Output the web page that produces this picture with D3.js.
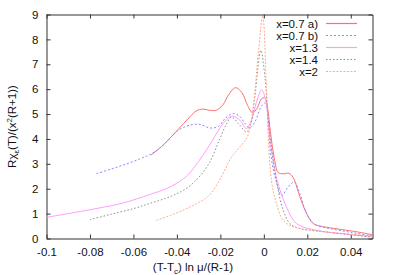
<!DOCTYPE html>
<html>
<head>
<meta charset="utf-8">
<script src="https://cdn.jsdelivr.net/npm/d3@7"></script>
<style>
  body { margin: 0; background: #fff; }
  svg { font-family: "Liberation Sans", Arial, sans-serif; }
</style>
</head>
<body>
<div id="app"></div>
<script>
const xTicks = [-0.1, -0.08, -0.06, -0.04, -0.02, 0, 0.02, 0.04];
const yTicks = [0, 1, 2, 3, 4, 5, 6, 7, 8, 9];
const seriesNames = ["x=0.7 a)", "x=0.7 b)", "x=1.3", "x=1.4", "x=2"];

const x07a = [[-0.052,3.35],[-0.047,3.7],[-0.043,4.05],[-0.039,4.42],[-0.035,4.8],[-0.031,5.13],[-0.028,5.2],[-0.025,5.15],[-0.022,5.15],[-0.019,5.35],[-0.016,5.8],[-0.013,6.06],[-0.010,5.85],[-0.0075,5.35],[-0.0052,5.05],[-0.003,5.25],[-0.0012,5.6],[0.0005,5.65],[0.0018,5.2],[0.003,4.3],[0.005,3.14],[0.0066,2.65],[0.009,2.6],[0.0115,2.62],[0.0135,2.45],[0.0165,1.7],[0.0197,1.0],[0.0227,0.6],[0.026,0.5],[0.0304,0.43],[0.0427,0.27],[0.05,0.15]];
const x07b = [[-0.077,2.6],[-0.07,2.8],[-0.063,3.0],[-0.057,3.2],[-0.0525,3.37],[-0.048,3.62],[-0.044,3.95],[-0.0402,4.3],[-0.036,4.5],[-0.0325,4.58],[-0.029,4.58],[-0.0249,4.44],[-0.021,4.5],[-0.0175,4.85],[-0.0141,5.02],[-0.011,4.9],[-0.0085,4.6],[-0.0064,4.45],[-0.004,4.7],[-0.0015,5.25],[0.0005,5.45],[0.002,4.9],[0.0028,3.7],[0.0045,2.7],[0.0061,2.2],[0.0081,1.72],[0.0112,2.07],[0.014,2.27],[0.0166,1.8],[0.0197,1.0],[0.0235,0.57],[0.0303,0.4],[0.04,0.25],[0.05,0.1]];
const x13 = [[-0.1,0.85],[-0.09,1.0],[-0.0755,1.23],[-0.065,1.42],[-0.0524,1.77],[-0.045,2.0],[-0.04,2.22],[-0.035,2.55],[-0.03,3.1],[-0.025,3.75],[-0.0205,4.4],[-0.0172,4.77],[-0.0144,4.92],[-0.011,4.75],[-0.008,4.42],[-0.0055,4.8],[-0.003,5.6],[-0.001,5.97],[0.001,5.5],[0.0025,4.2],[0.0043,3.14],[0.0061,2.34],[0.0104,1.27],[0.015,0.6],[0.0242,0.33],[0.035,0.2],[0.05,0.08]];
const x14 = [[-0.08,0.76],[-0.07,0.98],[-0.06,1.2],[-0.0525,1.41],[-0.045,1.62],[-0.04,1.8],[-0.035,2.05],[-0.03,2.45],[-0.025,3.05],[-0.0205,3.95],[-0.0172,4.6],[-0.0149,4.88],[-0.0115,4.6],[-0.008,4.28],[-0.006,4.6],[-0.004,5.8],[-0.0014,7.56],[0.0005,6.5],[0.002,4.8],[0.0035,3.68],[0.005,2.74],[0.0066,1.94],[0.0089,1.14],[0.012,0.6],[0.0166,0.4],[0.025,0.3],[0.035,0.2],[0.05,0.05]];
const x20 = [[-0.0494,0.73],[-0.043,0.93],[-0.0371,1.14],[-0.031,1.4],[-0.027,1.6],[-0.024,1.85],[-0.021,2.25],[-0.018,2.75],[-0.015,3.25],[-0.0118,3.6],[-0.0096,3.83],[-0.0075,4.1],[-0.005,5.2],[-0.0025,7.5],[-0.0005,8.95],[0.001,6.5],[0.002,4.2],[0.0035,2.34],[0.0058,1.4],[0.0089,0.73],[0.0135,0.47],[0.02,0.35],[0.03,0.25],[0.05,0.1]];

const chart = () => {
  const width = 393;
  const height = 275;
  const marginTop = 14.5;
  const marginRight = 20.5;
  const marginBottom = 36.5;
  const marginLeft = 46.5;

  const x = d3.scaleLinear().domain([-0.1, 0.05]).range([marginLeft, width - marginRight]);
  const y = d3.scaleLinear().domain([0, 9]).range([height - marginBottom, marginTop]);

  const svg = d3.create("svg").attr("width", width).attr("height", height);

  const styles = [
    { color: "#ff6f6f", dash: "none" },
    { color: "#8a8aff", dash: "2,2" },
    { color: "#ff9cff", dash: "none" },
    { color: "#8c8c8c", dash: "1.5,2" },
    { color: "#ffab8c", dash: "2,1.5" }
  ];
  const allSeries = [x07a, x07b, x13, x14, x20];

  const line = d3.line()
    .x((d) => x(d[0]))
    .y((d) => y(d[1]))
    .curve(d3.curveCatmullRom.alpha(0.5));

  svg.append("defs").append("clipPath").attr("id", "clip")
    .append("rect")
    .attr("x", marginLeft).attr("y", marginTop)
    .attr("width", width - marginLeft - marginRight)
    .attr("height", height - marginTop - marginBottom);

  // frame with mirrored inward ticks
  const axB = svg.append("g")
    .attr("transform", `translate(0,${height - marginBottom})`)
    .call(d3.axisBottom(x).tickValues(xTicks).tickSizeInner(-4).tickSizeOuter(0).tickPadding(9).tickFormat((d) => String(d)));
  const axT = svg.append("g")
    .attr("transform", `translate(0,${marginTop})`)
    .call(d3.axisTop(x).tickValues(xTicks).tickSizeInner(-4).tickSizeOuter(0).tickFormat(""));
  const axL = svg.append("g")
    .attr("transform", `translate(${marginLeft},0)`)
    .call(d3.axisLeft(y).tickValues(yTicks).tickSizeInner(-4).tickSizeOuter(0).tickPadding(8));
  const axR = svg.append("g")
    .attr("transform", `translate(${width - marginRight},0)`)
    .call(d3.axisRight(y).tickValues(yTicks).tickSizeInner(-4).tickSizeOuter(0).tickFormat(""));

  [axB, axT, axL, axR].forEach((g) => {
    g.select(".domain").attr("stroke", "#333");
    g.selectAll(".tick line").attr("stroke", "#333");
    g.selectAll("text").attr("font-size", 11.5).attr("fill", "#111").attr("font-family", "Liberation Sans, Arial, sans-serif");
  });

  const plot = svg.append("g").attr("clip-path", "url(#clip)");
  allSeries.forEach((s, i) => {
    plot.append("path")
      .datum(s)
      .attr("fill", "none")
      .style("stroke", styles[i].color)
      .style("stroke-width", 1)
      .style("stroke-dasharray", styles[i].dash)
      .attr("d", line);
  });

  // legend
  const legend = svg.append("g").attr("class", "legend");
  seriesNames.forEach((name, i) => {
    const ly = 23.5 + i * 12;
    legend.append("path")
      .attr("d", `M326,${ly}H357`)
      .attr("fill", "none")
      .style("stroke", styles[i].color)
      .style("stroke-width", 1.2)
      .style("stroke-dasharray", styles[i].dash);
    legend.append("text")
      .attr("x", 318).attr("y", ly + 4)
      .attr("text-anchor", "end")
      .attr("font-size", 11.5).attr("fill", "#111")
      .text(name);
  });

  // axis labels
  const xl = svg.append("text")
    .attr("x", 193).attr("y", 271)
    .attr("text-anchor", "middle")
    .attr("font-size", 11.5).attr("fill", "#111");
  xl.append("tspan").text("(T-T");
  xl.append("tspan").attr("font-size", 8).attr("dy", 3).text("c");
  xl.append("tspan").attr("dy", -3).text(") ln \u03bc/(R-1)");

  const yl = svg.append("text")
    .attr("transform", `translate(16,${(marginTop + height - marginBottom) / 2}) rotate(-90)`)
    .attr("text-anchor", "middle")
    .attr("font-size", 11.5).attr("fill", "#111");
  yl.append("tspan").text("R\u03c7");
  yl.append("tspan").attr("font-size", 8).attr("dy", 3).text("\u03b5");
  yl.append("tspan").attr("dy", -3).text("(T)/(x");
  yl.append("tspan").attr("font-size", 8).attr("dy", -4).text("2");
  yl.append("tspan").attr("dy", 4).text("(R+1))");

  return svg.node();
};

d3.select("#app").append(chart);
</script>
</body>
</html>
